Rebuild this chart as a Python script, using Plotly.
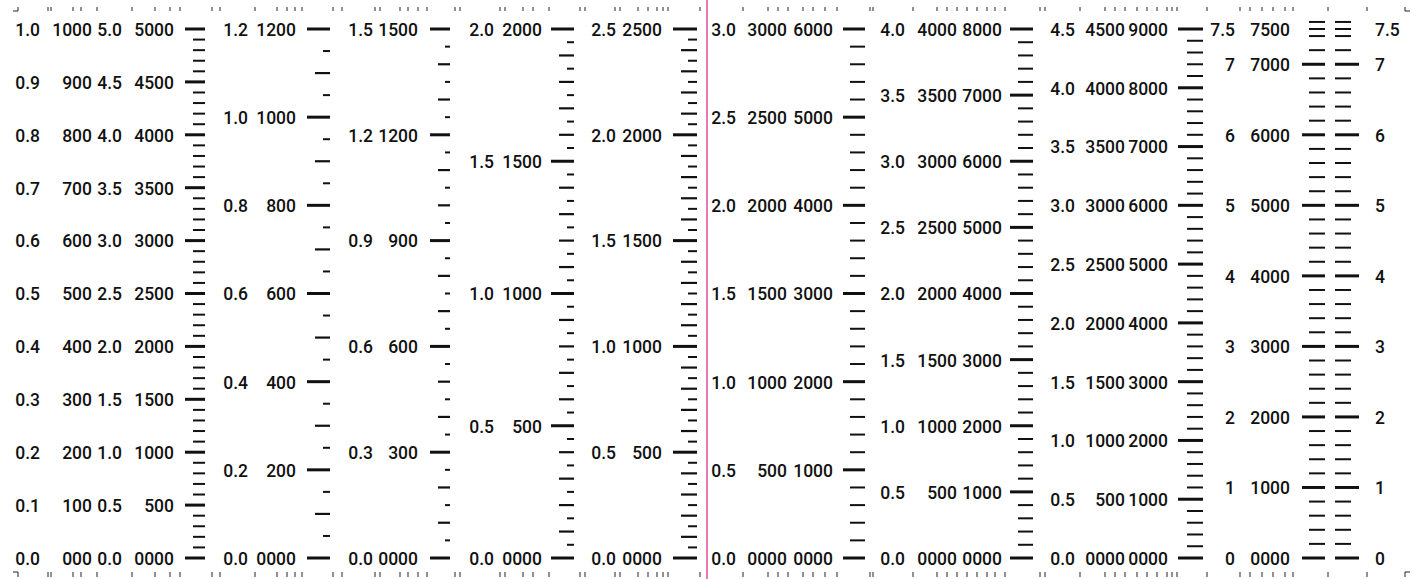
import plotly.graph_objects as go

# ---------------- data ----------------
scale_max   = [1.0, 1.2, 1.5, 2.0, 2.5, 3.0, 4.0, 4.5, 7.5, 7.5]
major_step  = [0.1, 0.2, 0.3, 0.5, 0.5, 0.5, 0.5, 0.5, 1.0, 1.0]
medium_step = [None, 0.1, 0.1, 0.1, 0.1, None, None, None, None, None]
minor_step  = [0.02, 0.05, 0.05, 0.05, 0.05, 0.1, 0.1, 0.1, 0.2, 0.2]
label_mult  = [[1, 1000, 5, 5000], [1, 1000], [1, 1000], [1, 1000], [1, 1000],
               [1, 1000, 2000], [1, 1000, 2000], [1, 1000, 2000], [1, 1000], [1]]
label_fmt   = [["f1", "d", "f1", "d"], ["f1", "d"], ["f1", "d"], ["f1", "d"], ["f1", "d"],
               ["f1", "d", "d"], ["f1", "d", "d"], ["f1", "d", "d"], ["g", "d"], ["g"]]
zero_labels = [["0.0", "000", "0.0", "0000"], ["0.0", "0000"], ["0.0", "0000"], ["0.0", "0000"],
               ["0.0", "0000"], ["0.0", "0000", "0000"], ["0.0", "0000", "0000"],
               ["0.0", "0000", "0000"], ["0", "0000"], ["0"]]
rug_x = [48, 51, 73, 81, 97, 132, 155, 170, 180, 212, 220, 255, 277, 287, 295, 302, 333, 342,
         375, 380, 400, 408, 418, 427, 455, 460, 500, 505, 523, 533, 549, 580, 585, 615, 620,
         638, 648, 657, 663, 668, 700, 743, 768, 778, 788, 803, 813, 825, 837, 870, 873, 913,
         937, 947, 957, 967, 977, 987, 995, 1005, 1040, 1045, 1080, 1105, 1115, 1125, 1137,
         1147, 1157, 1167, 1172, 1177, 1207, 1240, 1250, 1262, 1273, 1285, 1293, 1328, 1367]

# ---------------- layout (pixel positions) ----------------
W, H = 1421, 579
Y_TOP, Y_BOT = 29.0, 558.0
def fy(p):
    return (Y_BOT - p) / (Y_BOT - Y_TOP)
TEXT_DY = 2.5 / (Y_BOT - Y_TOP)   # labels sit slightly below their tick

label_right = [[40, 92, 122, 174], [248, 296], [373, 418], [494, 542], [616, 662],
               [736, 787, 833], [905, 957, 1002], [1075, 1125, 1168], [1235, 1290], None]
label_left10 = 1375
# (anchor x, major len, medium len, minor len, direction)
tick_geom = [(205, 20, 12, 12, -1), (330, 23, 15, 7, -1), (450, 20, 12, 5, -1),
             (574, 23, 15, 7, -1), (697, 24, 16, 9, -1), (865, 22, 15, 15, -1),
             (1033, 23, 15, 15, -1), (1203, 25, 16, 16, -1), (1325, 23, 16, 16, -1),
             (1335, 24, 16, 16, 1)]
PINK_X = 707
FONT = dict(family="Roboto, Liberation Sans, Arial, sans-serif", size=17.5, color="#111111",
            weight=500)

fig = go.Figure()

seg = {"major": ([], []), "medium": ([], []), "minor": ([], [])}
for i, mx in enumerate(scale_max):
    n = int(round(mx / minor_step[i]))
    vals = [k * minor_step[i] for k in range(n + 1)]
    if abs(vals[-1] - mx) > 1e-9:
        vals.append(mx)
    x0, lmaj, lmed, lmin, d = tick_geom[i]
    for v in vals:
        r = v / major_step[i]
        if abs(r - round(r)) < 1e-6:
            kind, L = "major", lmaj
        elif medium_step[i] and abs(v / medium_step[i] - round(v / medium_step[i])) < 1e-6:
            kind, L = "medium", lmed
        else:
            kind, L = "minor", lmin
        xs, ys = seg[kind]
        xs += [x0 + d * L, x0, None]
        yv = v / mx
        ys += [yv, yv, None]

widths = {"major": 3, "medium": 2.2, "minor": 2}
for kind, (xs, ys) in seg.items():
    fig.add_trace(go.Scatter(x=xs, y=ys, mode="lines", hoverinfo="skip",
                             line=dict(color="#111111", width=widths[kind])))

# labels
def fmt(v, m, f, zero):
    val = v * m
    if abs(val) < 1e-9:
        return zero
    if f == "f1":
        return "%.1f" % val
    if f == "d":
        return "%d" % round(val)
    return "%g" % val

for i, mx in enumerate(scale_max):
    n = int(round(mx / major_step[i]))
    vals = [k * major_step[i] for k in range(n + 1)]
    if abs(vals[-1] - mx) > 1e-9:
        vals.append(mx)
    for j, m in enumerate(label_mult[i]):
        texts = [fmt(v, m, label_fmt[i][j], zero_labels[i][j]) for v in vals]
        ys = [v / mx - TEXT_DY for v in vals]
        if label_right[i] is None:
            xs = [label_left10] * len(vals)
            pos = "middle right"
        else:
            xs = [label_right[i][j]] * len(vals)
            pos = "middle left"
        fig.add_trace(go.Scatter(x=xs, y=ys, mode="text", text=texts, textposition=pos,
                                 textfont=FONT, hoverinfo="skip", cliponaxis=False))

# pink divider
fig.add_trace(go.Scatter(x=[PINK_X, PINK_X], y=[fy(H), fy(0)], mode="lines",
                         line=dict(color="#e879b6", width=2), hoverinfo="skip"))

# rug ticks top and bottom + corner marks
rx, ry = [], []
for x in rug_x:
    rx += [x, x, None, x, x, None]
    ry += [fy(7), fy(11), None, fy(572), fy(577), None]
for (cx, cy, hx, vy) in [(18, 11, 13, 7), (1405, 11, 1410, 7), (18, 572, 13, 577), (1405, 572, 1410, 577)]:
    rx += [hx, cx, cx, None]
    ry += [fy(cy), fy(cy), fy(vy), None]
fig.add_trace(go.Scatter(x=rx, y=ry, mode="lines", line=dict(color="#222222", width=1),
                         hoverinfo="skip"))

fig.update_layout(
    width=W, height=H, margin=dict(l=0, r=0, t=0, b=0, pad=0),
    paper_bgcolor="white", plot_bgcolor="white", showlegend=False,
    xaxis=dict(range=[0, W], visible=False, fixedrange=True),
    yaxis=dict(range=[fy(H), fy(0)], visible=False, fixedrange=True),
)
fig.write_html("out.html", config={"displayModeBar": False},
               post_script="document.body.style.margin='0px';")
